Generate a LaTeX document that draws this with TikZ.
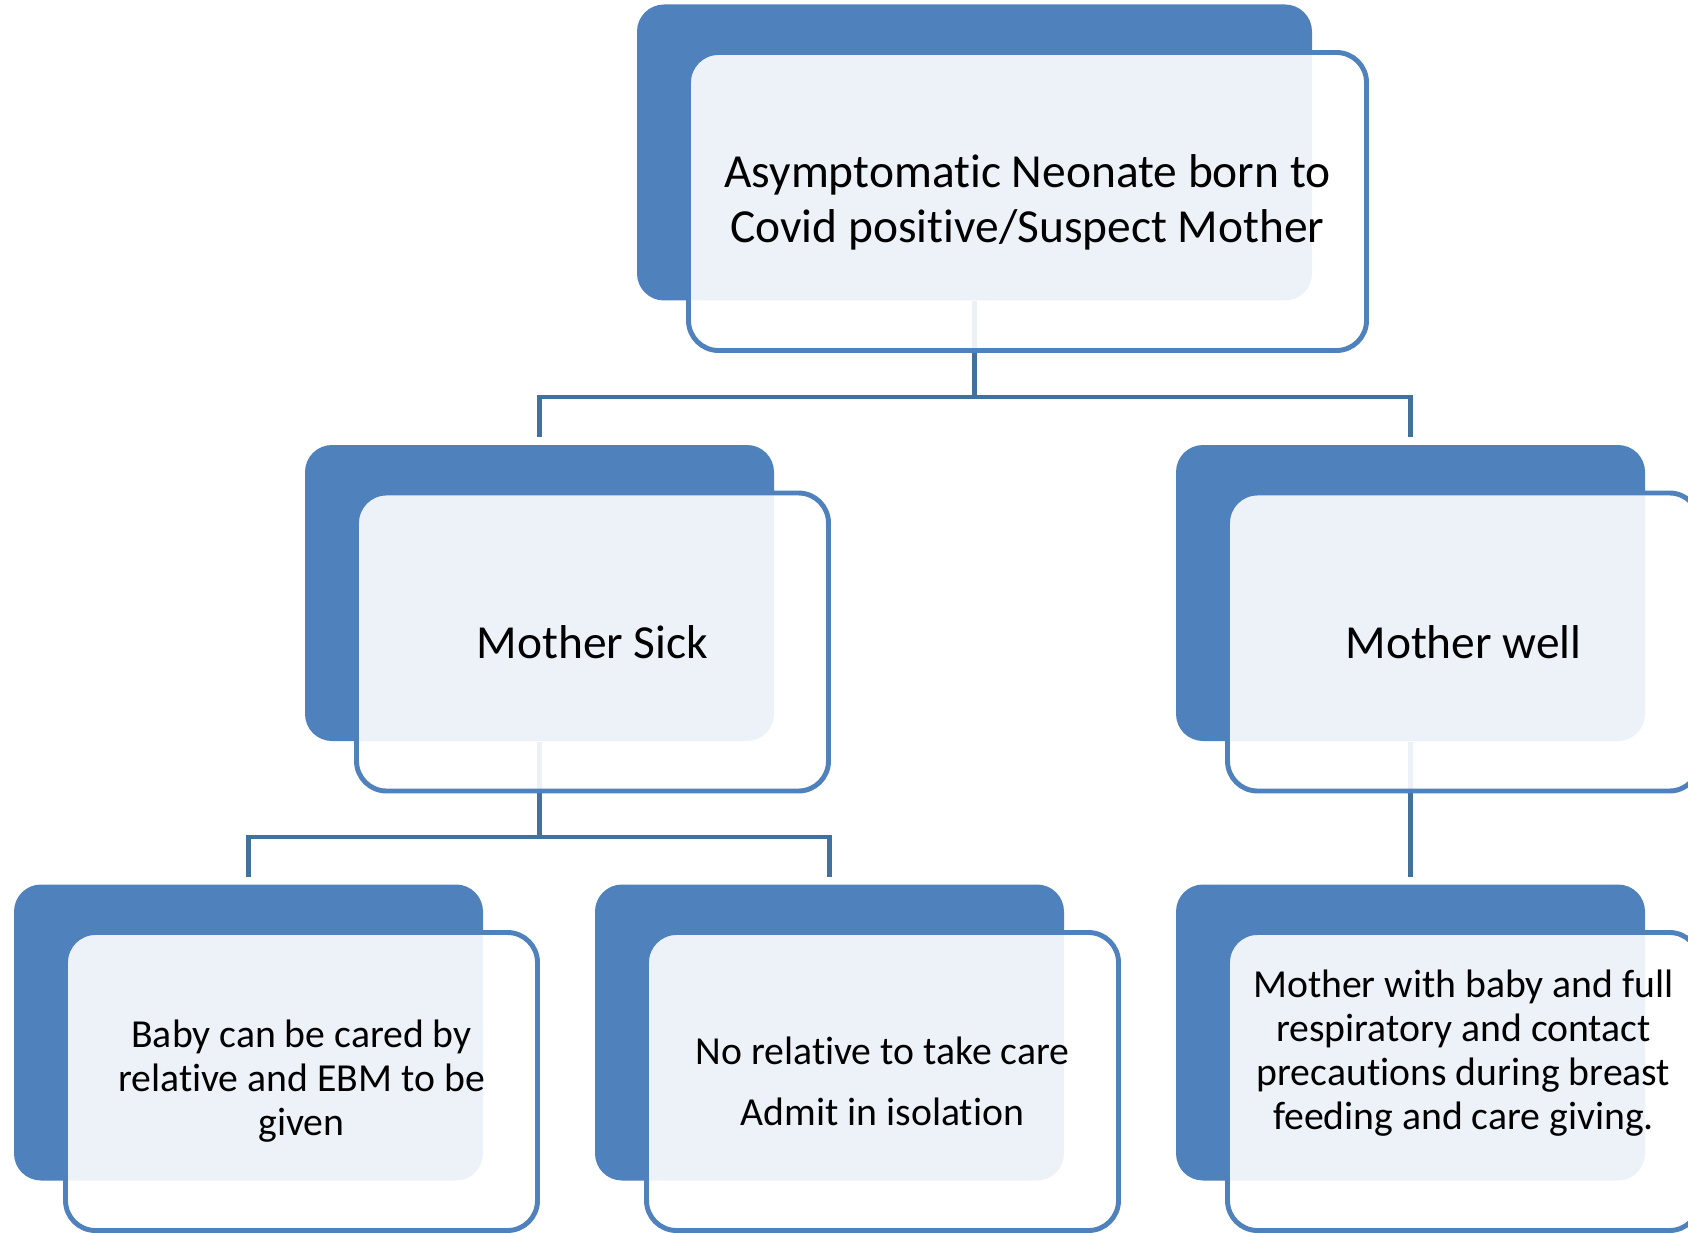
\documentclass[tikz,border=0pt]{standalone}
\usepackage{fontspec}
\setmainfont{Carlito}[Ligatures={NoCommon,NoContextual}, RawFeature={-clig;-calt}]
\usetikzlibrary{calc}
\pgfdeclarelayer{background}
\pgfsetlayers{background,main}

\definecolor{accent}{HTML}{4F81BD}
\definecolor{linkblue}{HTML}{41719C}

\begin{document}
\begin{tikzpicture}[
  x=0.1mm,
  y=-0.1mm,
  line join=round
]

  % offset of a card from its plate
  \def\dx{53}
  \def\dy{49}

  % styles for plates, cards and links
  \tikzset{
    plate/.style={fill=accent, rounded corners=2.7mm, inner sep=0pt,
      minimum width=46.9mm, minimum height=29.6mm},
    card/.style={draw=accent, line width=1.4pt, fill=white,
      fill opacity=0.9, text opacity=1, rounded corners=3mm,
      minimum width=47.2mm, minimum height=29.8mm, align=center,
      font=\fontsize{11.3}{12.5}\selectfont},
    wideplate/.style={plate, minimum width=67.5mm},
    widecard/.style={card, minimum width=67.8mm},
    bigtext/.style={font=\fontsize{13.5}{15.4}\selectfont},
    link/.style={draw=linkblue, line width=1.2pt}
  }

  \useasboundingbox (0,0) rectangle (1688,1232);

  % plates
  \node[wideplate] (rootB) at (974.5,152.5) {};
  \node[plate] (sickB) at (539.5,593) {};
  \node[plate] (wellB) at (1410.5,593) {};
  \node[plate] (relB)  at (248.5,1032.5) {};
  \node[plate] (isoB)  at (829.5,1032.5) {};
  \node[plate] (feedB) at (1410.5,1032.5) {};

  % cards
  \node[widecard, bigtext, text depth=0.6mm] (root) at ($(rootB)+(\dx,\dy)$)
    {Asymptomatic Neonate born to\\Covid positive/Suspect Mother};
  \node[card, bigtext] (sick) at ($(sickB)+(\dx,\dy)$) {Mother Sick};
  \node[card, bigtext] (well) at ($(wellB)+(\dx,\dy)$) {Mother well};
  \node[card] (rel) at ($(relB)+(\dx,\dy)$)
    {Baby can be cared by\\relative and EBM to be\\given};
  \node[card] (iso) at ($(isoB)+(\dx,\dy)$)
    {No relative to take care\\[4.9pt]Admit in isolation};
  \node[card, text depth=6.4mm] (feed) at ($(feedB)+(\dx,\dy)$)
    {Mother with baby and full\\respiratory and contact\\precautions during breast\\feeding and care giving.};

  % links, under everything
  \begin{pgfonlayer}{background}
    \fill[white] (0,0) rectangle (1688,1232);
    \draw[link] (rootB.south) -- ++(0,96) -| ($(sickB.north)+(0,-7)$);
    \draw[link] (rootB.south) -- ++(0,96) -| ($(wellB.north)+(0,-7)$);
    \draw[link] (sickB.south) -- ++(0,95) -| ($(relB.north)+(0,-7)$);
    \draw[link] (sickB.south) -- ++(0,95) -| ($(isoB.north)+(0,-7)$);
    \draw[link] (wellB.south) -- ($(feedB.north)+(0,-7)$);
  \end{pgfonlayer}

\end{tikzpicture}
\end{document}
